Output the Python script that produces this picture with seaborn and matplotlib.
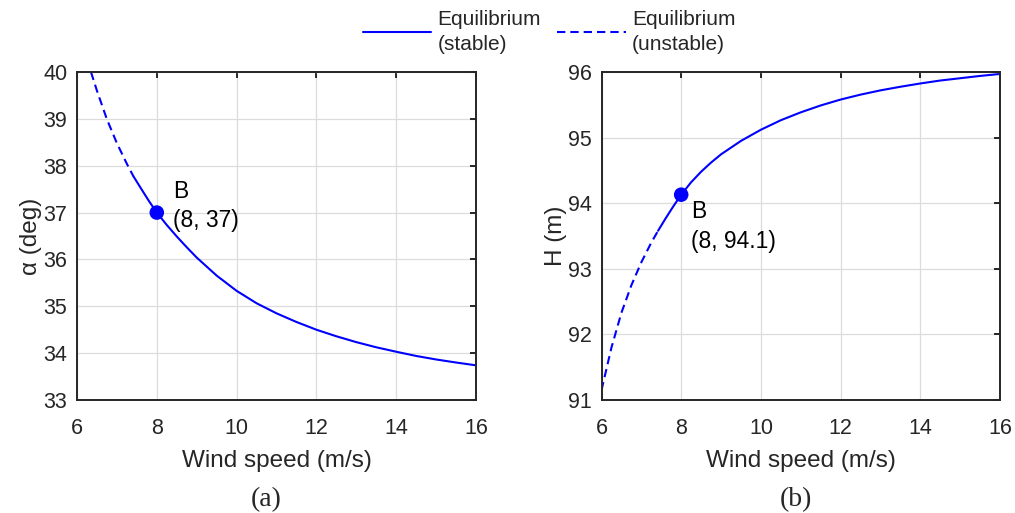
import pandas as pd
import matplotlib.pyplot as plt
import seaborn as sns

# Dados
# (a) alpha vs velocidade do vento
v_a_inst = [6.35, 6.5, 6.75, 7.0, 7.25, 7.41]
alpha_inst = [40.0, 39.6, 38.99, 38.48, 38.04, 37.78]
v_a_est = [7.41, 7.6, 7.8, 8.0, 8.25, 8.5, 8.75, 9.0, 9.5, 10.0, 10.5, 11.0,
           11.5, 12.0, 12.5, 13.0, 13.5, 14.0, 14.5, 15.0, 15.5, 16.0]
alpha_est = [37.78, 37.52, 37.25, 37.0, 36.735, 36.49, 36.26, 36.04, 35.655, 35.33, 35.065, 34.85,
             34.665, 34.50, 34.36, 34.235, 34.125, 34.03, 33.94, 33.865, 33.80, 33.74]

# (b) H vs velocidade do vento
v_b_inst = [6.0, 6.25, 6.5, 6.75, 7.0, 7.25, 7.42]
h_inst = [91.15, 91.8, 92.33, 92.75, 93.1, 93.40, 93.58]
v_b_est = [7.42, 7.6, 7.8, 8.0, 8.25, 8.5, 8.75, 9.0, 9.5, 10.0, 10.5, 11.0, 11.5, 12.0,
           12.5, 13.0, 13.5, 14.0, 14.5, 15.0, 15.5, 16.0]
h_est = [93.58, 93.76, 93.95, 94.13, 94.32, 94.48, 94.62, 94.745, 94.95, 95.12, 95.265, 95.385, 95.49, 95.58,
         95.655, 95.72, 95.775, 95.825, 95.87, 95.905, 95.94, 95.97]

# Ponto B
b_x = [8]
b_alpha = [37]
b_h = [94.13]
b_labels = ["B\n(8, 37)", "B\n(8, 94.1)"]

sns.set_style("white")
plt.rcParams["font.family"] = ["Liberation Sans", "DejaVu Sans"]

azul = "#0000ff"
cinza = "#262626"
tracejado = (4, 2.4)

fig = plt.figure(figsize=(10.15, 5.13), dpi=100)
ax1 = fig.add_axes([77 / 1015, 1 - 400 / 513, 399 / 1015, 328 / 513])
ax2 = fig.add_axes([601.5 / 1015, 1 - 400 / 513, 398.5 / 1015, 328 / 513])

# Gráfico (a)
sns.lineplot(x=v_a_est, y=alpha_est, color=azul, lw=1.5, estimator=None, ax=ax1,
             label="Equilibrium\n(stable)")
sns.lineplot(x=v_a_inst, y=alpha_inst, color=azul, lw=1.5, estimator=None, ax=ax1,
             label="Equilibrium\n(unstable)")
ax1.lines[1].set_dashes(tracejado)
sns.scatterplot(x=b_x, y=b_alpha, color=azul, s=110, edgecolor="none", ax=ax1, zorder=5)
ax1.annotate(b_labels[0], (b_x[0], b_alpha[0]), xytext=(12, 4.5), textcoords="offset points",
             fontsize=16.5, color="black", va="center", ha="left", linespacing=1.35)
ax1.set_xlim(6, 16)
ax1.set_ylim(33, 40)
ax1.set_xticks(range(6, 17, 2))
ax1.set_yticks(range(33, 41))
ax1.set_xlabel("Wind speed (m/s)")
ax1.set_ylabel("α (deg)")

# Gráfico (b)
sns.lineplot(x=v_b_est, y=h_est, color=azul, lw=1.5, estimator=None, ax=ax2)
sns.lineplot(x=v_b_inst, y=h_inst, color=azul, lw=1.5, estimator=None, ax=ax2)
ax2.lines[1].set_dashes(tracejado)
sns.scatterplot(x=b_x, y=b_h, color=azul, s=110, edgecolor="none", ax=ax2, zorder=5)
ax2.annotate(b_labels[1], (b_x[0], b_h[0]), xytext=(7, -23), textcoords="offset points",
             fontsize=16.5, color="black", va="center", ha="left", linespacing=1.35)
ax2.set_xlim(6, 16)
ax2.set_ylim(91, 96)
ax2.set_xticks(range(6, 17, 2))
ax2.set_yticks(range(91, 97))
ax2.set_xlabel("Wind speed (m/s)")
ax2.set_ylabel("H (m)")

for ax in (ax1, ax2):
    ax.grid(True, color="#dcdcdc", lw=0.9)
    ax.set_axisbelow(True)
    for s in ax.spines.values():
        s.set_visible(True)
        s.set_color(cinza)
        s.set_linewidth(1.4)
    ax.tick_params(direction="in", length=4, width=1.4, colors=cinza, labelsize=15.5,
                   top=True, right=True)
    ax.tick_params(axis="x", pad=13)
    ax.tick_params(axis="y", pad=7)
    ax.xaxis.label.set_size(17.5)
    ax.yaxis.label.set_size(17.5)
    ax.xaxis.label.set_color(cinza)
    ax.yaxis.label.set_color(cinza)
    ax.xaxis.labelpad = 8
    ax.yaxis.labelpad = 1

# Legenda
handles, labels = ax1.get_legend_handles_labels()
ax1.get_legend().remove()
leg = fig.legend(handles, labels, loc="center", bbox_to_anchor=(549 / 1015, 1 - 32 / 513),
                 ncol=2, frameon=False, fontsize=15, handlelength=3.3, handletextpad=0.3,
                 columnspacing=0.75, borderpad=0, labelcolor=cinza)
for t in leg.get_texts():
    t.set_linespacing(1.45)

# Rótulos (a) e (b)
fig.text(266 / 1015, 1 - 500 / 513, "(a)", family="Liberation Serif", fontsize=20,
         ha="center", va="center")
fig.text(796 / 1015, 1 - 500 / 513, "(b)", family="Liberation Serif", fontsize=20,
         ha="center", va="center")

plt.savefig("out.png", dpi=100)
